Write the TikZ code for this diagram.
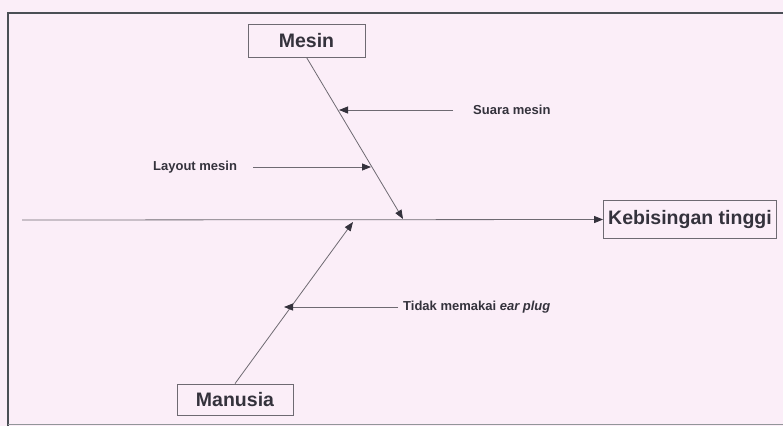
\documentclass[tikz,border=0pt]{standalone}
\usepackage{fontspec}
\setmainfont{Liberation Sans}
\usetikzlibrary{arrows.meta}
\definecolor{paper}{HTML}{FBEEF8}
\definecolor{ink}{HTML}{34323C}
\definecolor{rule}{HTML}{6E6A72}
\definecolor{frameline}{HTML}{4A4F55}
\tikzset{
  catbox/.style={draw=rule, line width=0.8pt, fill=paper, text=ink,
    font=\fontsize{19.5}{22}\selectfont\bfseries, inner sep=0pt, anchor=center},
  cause/.style={text=ink, font=\fontsize{13}{15}\selectfont\bfseries, inner sep=0pt},
  bone/.style={draw=rule, line width=0.8pt,
    -{Triangle[length=9pt,width=7pt,color=ink,fill=ink]}},
}
\begin{document}
\begin{tikzpicture}[x=1pt,y=-1pt]
  \fill[paper] (0,0) rectangle (783,426);
  \useasboundingbox (0,0) rectangle (783,426);
  % outer frame
  \draw[frameline, line width=2pt] (8,426) -- (8,13) -- (783,13);
  \draw[frameline!60, line width=1.5pt] (8,424.5) -- (783,424.5);

  % category boxes
  \node[catbox, minimum width=117, minimum height=33] (mesin) at (306.5,40.5) {Mesin};
  \node[catbox, minimum width=116, minimum height=31] (manusia) at (235,399.5) {Manusia};
  \node[catbox, minimum width=173, minimum height=38] (effect) at (690,219) {Kebisingan tinggi};

  % spine
  \coordinate (tail) at (22,220);
  \draw[bone] (tail) -- (effect.west |- 0,219.5);

  % main bones
  \coordinate (mesinEnd) at (403,219);
  \coordinate (manusiaEnd) at (353,222);
  \draw[bone] (mesin.south) -- (mesinEnd);
  \draw[bone] (manusia.north) -- (manusiaEnd);

  % causes
  \node[cause, anchor=west] (suara) at (473,110) {Suara mesin};
  \coordinate (suaraTip) at (339,110);
  \coordinate (suaraStart) at (453,110);
  \draw[bone] (suaraStart) -- (suaraTip);

  \node[cause, anchor=west] (layout) at (153,167) {Layout mesin};
  \coordinate (layoutStart) at (253,167);
  \coordinate (layoutTip) at (371,167);
  \draw[bone] (layoutStart) -- (layoutTip);

  \node[cause, anchor=west] (tidak) at (403,307) {Tidak memakai \textit{ear plug}};
  \coordinate (tidakStart) at (398,307);
  \coordinate (tidakTip) at (284,307);
  \draw[bone] (tidakStart) -- (tidakTip);
\end{tikzpicture}
\end{document}
